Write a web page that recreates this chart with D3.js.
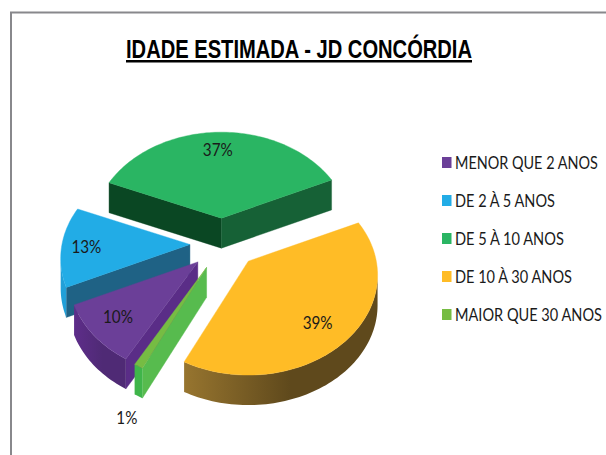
<!DOCTYPE html>
<html><head><meta charset="utf-8">
<script src="https://cdn.jsdelivr.net/npm/d3@7"></script>
<style>html,body{margin:0;padding:0;background:#fff;overflow:hidden}svg{display:block}</style>
</head><body><svg id="c" width="606" height="455"></svg>
<script>
const chartTitle = "IDADE ESTIMADA - JD CONCÓRDIA";
const categories = ["MENOR QUE 2 ANOS","DE 2 À 5 ANOS","DE 5 À 10 ANOS","DE 10 À 30 ANOS","MAIOR QUE 30 ANOS"];
const percentValues = [10,13,37,39,1];
const topColors = ["#6b3f98","#22ace6","#2ab563","#ffbc26","#76bc43"];
const legendColors = ["#6b3f98","#22ace6","#2ab563","#ffbc26","#76bc43"];
const startFaceColors = ["#5a2d87","#1f6285","#0a4723","#000","#57bb4e"];
const endFaceColors = ["#5a2d87","#1f6285","#166136","#000","#57bb4e"];
const rimStops = [["#5e2d8a","#4f2a75"],["#22a0d8","#22a0d8"],["#166136","#166136"],["#97752f","#5f491c"],["#3fb54a","#3fb54a"]];

// layout
const W=606,H=455, cx=222, cy=245, RX=128, RY=98, P=0.14, DEPTH=30;
const explode=[.25,.258,.285,.265,.25];
const nudgeX=[0,1,0,2,0], nudgeY=[0,-1,0,-3,0];
const labelR=[.8,.8,.77,.74,1.43], labelShiftX=[2,-1,-2,-2,24], labelShiftY=[-2,1,0,6,0];
const legendTextWidths=[143,100,109,117,147];
const rad=d=>d*Math.PI/180;

const svg=d3.select("#c");
const defs=svg.append("defs");
svg.append("rect").attr("width",W).attr("height",H).attr("fill","#fff");
svg.append("path").attr("d",`M11 ${H}V12.5H${W}`).attr("fill","none").attr("stroke","#88888c").attr("stroke-width",2);

svg.append("text").attr("x",299).attr("y",58).attr("text-anchor","middle")
  .attr("font-family","'Liberation Sans Narrow','Liberation Sans',Arial,sans-serif").attr("font-weight","bold")
  .attr("font-size",25).attr("text-decoration","underline")
  .attr("textLength",346).attr("lengthAdjust","spacingAndGlyphs").text(chartTitle);

const proj=(a,r=1)=>{const u=Math.sin(a)*r,v=Math.cos(a)*r,s=1/(1+P*v);return [RX*u*s,-RY*v*s];};
const arcs=d3.pie().sort(null).startAngle(rad(209.6)).endAngle(rad(209.6+360))(percentValues);
const line=d3.line();
const drawOrder=[2,1,0,4,3];

drawOrder.forEach(i=>{
  const d=arcs[i], mid=(d.startAngle+d.endAngle)/2;
  const o=proj(mid,explode[i]);
  const apex=[cx+o[0]+nudgeX[i],cy+o[1]+nudgeY[i]];
  const n=Math.max(4,Math.ceil((d.endAngle-d.startAngle)/rad(1.5)));
  const rim=d3.range(n+1).map(k=>{const a=d.startAngle+(d.endAngle-d.startAngle)*k/n,p=proj(a);return [apex[0]+p[0],apex[1]+p[1]];});
  const down=p=>[p[0],p[1]+DEPTH];
  const g=svg.append("g");
  const first=rim[0], last=rim[rim.length-1];
  const face=(a,b,c)=>g.append("path").attr("d",line([a,b,down(b),down(a)])+"Z").attr("fill",c).attr("stroke",c).attr("stroke-width",.4);
  if(first[0]<apex[0]) face(apex,first,startFaceColors[i]);
  if(apex[0]<last[0]) face(last,apex,endFaceColors[i]);
  const vis=rim.filter((p,k)=>(k<rim.length-1&&rim[k+1][0]<p[0])||(k>0&&p[0]<rim[k-1][0]));
  if(vis.length>1){
    const id="rim"+i, gr=defs.append("linearGradient").attr("id",id);
    gr.append("stop").attr("offset","0").attr("stop-color",rimStops[i][0]);
    gr.append("stop").attr("offset","0.55").attr("stop-color",rimStops[i][1]);
    g.append("path").attr("d",line(vis.concat(vis.slice().reverse().map(down)))+"Z").attr("fill",`url(#${id})`);
  }
  g.append("path").attr("d",line([apex,...rim])+"Z").attr("fill",topColors[i]).attr("stroke",topColors[i]).attr("stroke-width",.4);
  const lp=proj(mid,labelR[i]);
  d.label=[apex[0]+lp[0]+labelShiftX[i],apex[1]+lp[1]+labelShiftY[i]];
});

const bodyFont="Lato,'Open Sans',sans-serif";
const fitX=(sel,x,y,widthOf,anchorMid)=>sel.each(function(d,i){
  const t=d3.select(this), w=this.getComputedTextLength(), tw=widthOf(d,i), k=tw/w;
  t.attr("transform",`translate(${x(d,i)-(anchorMid?tw/2:0)},${y(d,i)}) scale(${k},1)`);
});
const labels=svg.append("g").selectAll("text").data(arcs).join("text")
  .attr("dy","0.35em").attr("font-family",bodyFont).attr("font-size",17).attr("fill","#1a1a1a")
  .text(d=>d.value+"%");
fitX(labels,d=>d.label[0],d=>d.label[1],d=>d.value>=10?30:21,true);

const legendY=d3.scalePoint().domain(categories).range([163,315]);
const lg=svg.append("g").selectAll("g").data(categories).join("g").attr("transform",d=>`translate(0,${legendY(d)})`);
lg.append("rect").attr("x",442).attr("y",-6).attr("width",9.5).attr("height",11).attr("fill",(d,i)=>legendColors[i]);
const legendText=lg.append("text").attr("dy","0.35em").attr("font-family",bodyFont).attr("font-size",17).attr("fill","#1a1a1a").text(d=>d);
fitX(legendText,()=>455,()=>0,(d,i)=>legendTextWidths[i],false);
</script></body></html>
